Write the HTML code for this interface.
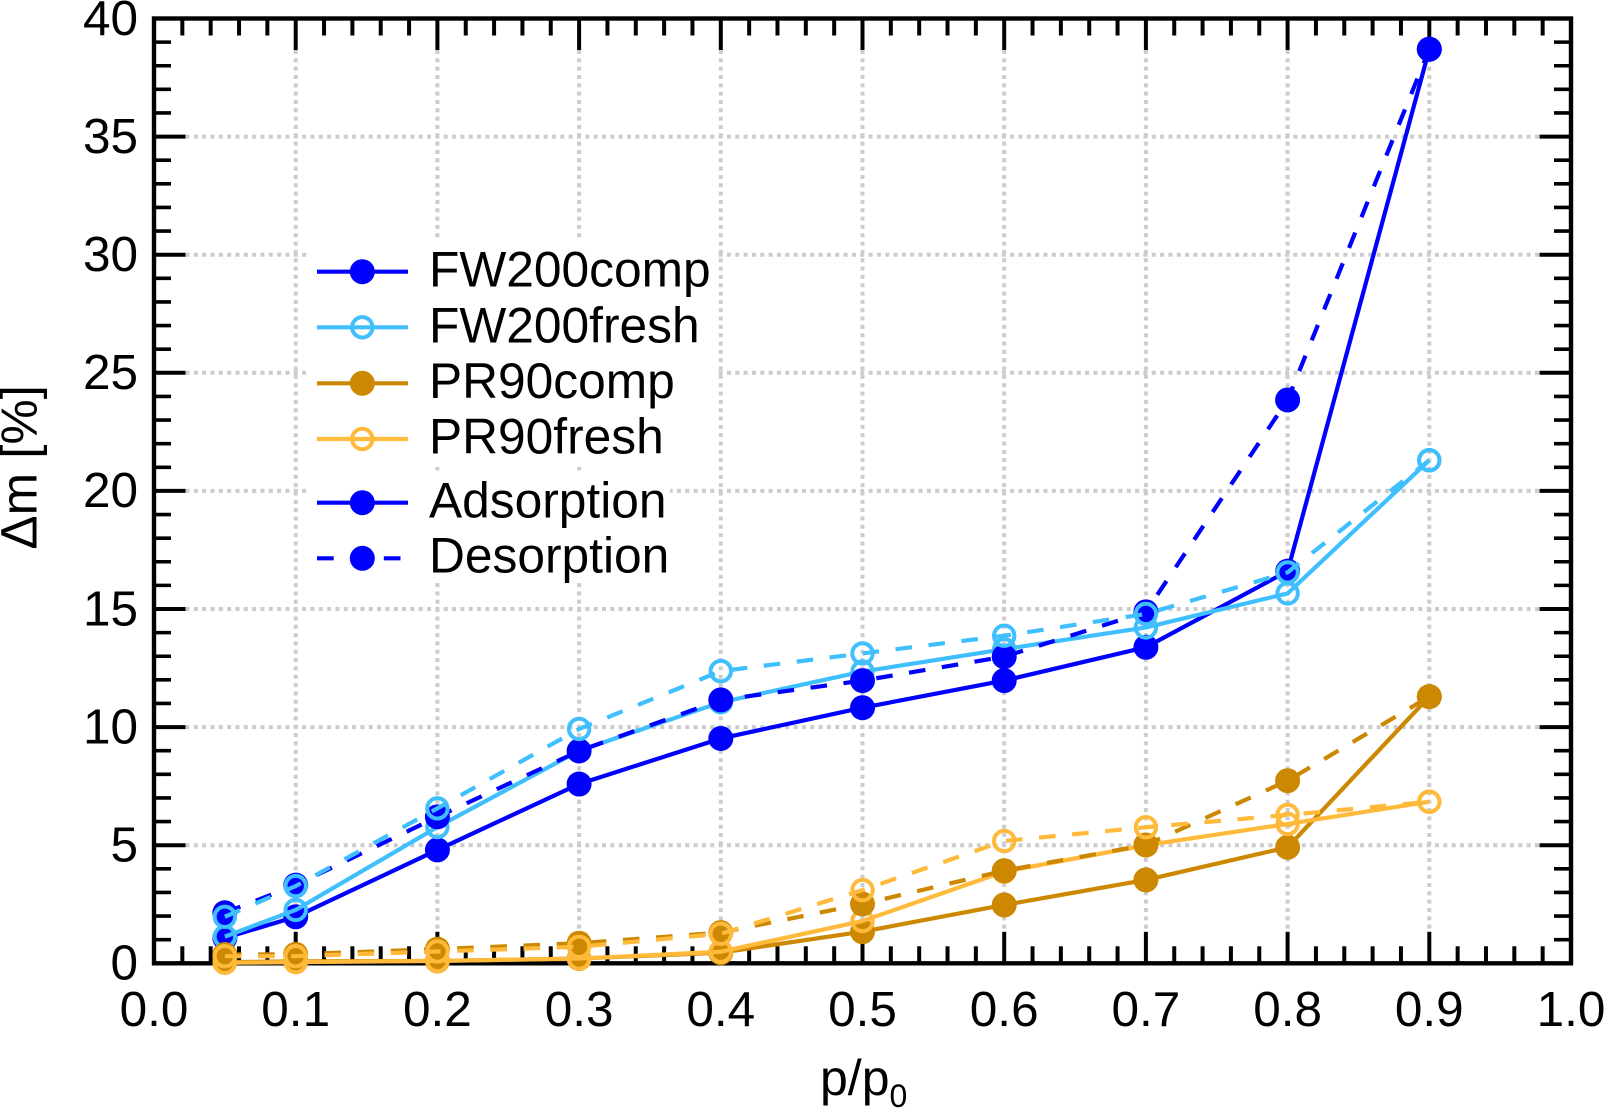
<!DOCTYPE html>
<html lang="en">
<head>
<meta charset="utf-8">
<title>Mass change vs relative pressure</title>
<style>
html,body{margin:0;padding:0;background:#fff;}
svg{display:block;font-family:"Liberation Sans",Arial,sans-serif;}
text{fill:#000;}
</style>
</head>
<body>
<svg id="chart" xmlns="http://www.w3.org/2000/svg" width="1604" height="1108" viewBox="0 0 1604 1108">
  <g id="grid"></g>
  <g id="frame"></g>
  <g id="labels"></g>
  <text transform="translate(36.7 549.5) rotate(-90)" font-size="51">Δm [%]</text>
  <text x="820" y="1095" font-size="50">p/p<tspan font-size="32" dy="12">0</tspan></text>

  <g>
    <rect x="310" y="238" width="405" height="229" fill="#fff"/>
    <g>
      <line x1="317" x2="408" y1="271.7" y2="271.7" stroke="#0000ff" stroke-width="4.2"/>
      <circle cx="362.3" cy="271.7" r="12.5" fill="#0000ff"/>
      <text x="429" y="286.7" font-size="49.7">FW200comp</text>
    </g>
    <g>
      <line x1="317" x2="408" y1="327.3" y2="327.3" stroke="#40bfff" stroke-width="4.2"/>
      <circle cx="362.3" cy="327.3" r="10.2" fill="none" stroke="#40bfff" stroke-width="4"/>
      <text x="429" y="342.4" font-size="49.7">FW200fresh</text>
    </g>
    <g>
      <line x1="317" x2="408" y1="383.3" y2="383.3" stroke="#cc8800" stroke-width="4.2"/>
      <circle cx="362.3" cy="383.3" r="12.5" fill="#cc8800"/>
      <text x="429" y="398" font-size="49.7">PR90comp</text>
    </g>
    <g>
      <line x1="317" x2="408" y1="439" y2="439" stroke="#ffb93b" stroke-width="4.2"/>
      <circle cx="362.3" cy="439" r="10.2" fill="none" stroke="#ffb93b" stroke-width="4"/>
      <text x="429" y="453.6" font-size="49.7">PR90fresh</text>
    </g>
  </g>

  <g>
    <rect x="310" y="472" width="360" height="111" fill="#fff"/>
    <g>
      <line x1="317" x2="408" y1="502.7" y2="502.7" stroke="#0000ff" stroke-width="4.2"/>
      <circle cx="362.3" cy="502.7" r="12.5" fill="#0000ff"/>
      <text x="429" y="517.7" font-size="49.7">Adsorption</text>
    </g>
    <g>
      <line x1="317" x2="400.5" y1="558.3" y2="558.3" stroke="#0000ff" stroke-width="4.2" stroke-dasharray="16.7 16.7"/>
      <circle cx="362.3" cy="558.3" r="12.5" fill="#0000ff"/>
      <text x="429" y="572.6" font-size="49.7">Desorption</text>
    </g>
  </g>

  <g id="series"></g>
</svg>
<script>
var pressure = [0.05, 0.1, 0.2, 0.3, 0.4, 0.5, 0.6, 0.7, 0.8, 0.9];
var fw200compAdsorption = [1.07, 1.97, 4.8, 7.59, 9.52, 10.82, 11.97, 13.38, 16.6, 38.7];
var fw200freshAdsorption = [1.13, 2.26, 5.77, 9.0, 11.05, 12.35, 13.3, 14.22, 15.66, 21.3];
var fw200compDesorption = [2.14, 3.31, 6.2, 8.99, 11.15, 11.97, 12.98, 14.88, 23.85, 38.7];
var fw200freshDesorption = [1.97, 3.27, 6.56, 9.92, 12.37, 13.12, 13.87, 14.79, 16.55, 21.3];
var pr90compAdsorption = [0.05, 0.08, 0.1, 0.2, 0.45, 1.34, 2.47, 3.53, 4.91, 11.29];
var pr90freshAdsorption = [0.02, 0.05, 0.1, 0.2, 0.49, 1.79, 3.88, 5.0, 5.9, 6.84];
var pr90compDesorption = [0.37, 0.38, 0.6, 0.85, 1.3, 2.51, 3.92, 5.01, 7.73, 11.29];
var pr90freshDesorption = [0.3, 0.3, 0.5, 0.7, 1.25, 3.1, 5.18, 5.76, 6.28, 6.84];
var xTicks = [0, 0.1, 0.2, 0.3, 0.4, 0.5, 0.6, 0.7, 0.8, 0.9, 1];
var xTickLabels = ["0.0", "0.1", "0.2", "0.3", "0.4", "0.5", "0.6", "0.7", "0.8", "0.9", "1.0"];
var yTicks = [0, 5, 10, 15, 20, 25, 30, 35, 40];
var yTickLabels = ["0", "5", "10", "15", "20", "25", "30", "35", "40"];

var NS = "http://www.w3.org/2000/svg";
var PLOT = {left: 154, right: 1571, top: 18.5, bottom: 963.3};
function xScale(v) { return PLOT.left + (PLOT.right - PLOT.left) * v; }
function yScale(v) { return PLOT.bottom - (PLOT.bottom - PLOT.top) * v / 40; }
function make(tag, attrs, parent) {
  var node = document.createElementNS(NS, tag);
  for (var key in attrs) { node.setAttribute(key, attrs[key]); }
  parent.appendChild(node);
  return node;
}

var gridGroup = document.getElementById("grid");
var frameGroup = document.getElementById("frame");
var labelGroup = document.getElementById("labels");
var seriesGroup = document.getElementById("series");
var MAJOR = 31.5, MINOR = 17;

xTicks.forEach(function (t, i) {
  var x = xScale(t);
  if (t > 0 && t < 1) {
    var g = make("line", {x1: x, x2: x, y1: PLOT.top + MAJOR, y2: PLOT.bottom - MAJOR, stroke: "#cccccc", "stroke-width": 4, "stroke-dasharray": "4 4.33"}, gridGroup);
    
    
    var a = make("line", {x1: x, x2: x, y1: PLOT.bottom, y2: PLOT.bottom - MAJOR, stroke: "#000", "stroke-width": 4}, frameGroup);
    
    
    var b = make("line", {x1: x, x2: x, y1: PLOT.top, y2: PLOT.top + MAJOR, stroke: "#000", "stroke-width": 4}, frameGroup);
    
    
  }
  var label = make("text", {x: x, y: 1026, "text-anchor": "middle", "font-size": 49.5}, labelGroup);
  label.textContent = xTickLabels[i];
  
  
});

yTicks.forEach(function (t, i) {
  var y = yScale(t);
  if (t > 0 && t < 40) {
    var g = make("line", {x1: PLOT.left + MAJOR, x2: PLOT.right - MAJOR, y1: y, y2: y, stroke: "#cccccc", "stroke-width": 4, "stroke-dasharray": "4 4.33"}, gridGroup);
    
    
    var a = make("line", {x1: PLOT.left, x2: PLOT.left + MAJOR, y1: y, y2: y, stroke: "#000", "stroke-width": 4}, frameGroup);
    
    
    var b = make("line", {x1: PLOT.right, x2: PLOT.right - MAJOR, y1: y, y2: y, stroke: "#000", "stroke-width": 4}, frameGroup);
    
    
  }
  var label = make("text", {x: 138, y: y + 16.3, "text-anchor": "end", "font-size": 49.5}, labelGroup);
  label.textContent = yTickLabels[i];
  
  
});

for (var mx = 1; mx < 50; mx++) {
  if (mx % 5 === 0) { continue; }
  var xm = xScale(mx / 50);
  var mb = make("line", {x1: xm, x2: xm, y1: PLOT.bottom, y2: PLOT.bottom - MINOR, stroke: "#000", "stroke-width": 4}, frameGroup);
  
  
  var mt = make("line", {x1: xm, x2: xm, y1: PLOT.top, y2: PLOT.top + MINOR, stroke: "#000", "stroke-width": 4}, frameGroup);
  
  
}
for (var my = 1; my < 40; my++) {
  if (my % 5 === 0) { continue; }
  var ym = yScale(my);
  var ml = make("line", {x1: PLOT.left, x2: PLOT.left + MINOR, y1: ym, y2: ym, stroke: "#000", "stroke-width": 3.6}, frameGroup);
  
  
  var mr = make("line", {x1: PLOT.right, x2: PLOT.right - MINOR, y1: ym, y2: ym, stroke: "#000", "stroke-width": 3.6}, frameGroup);
  
  
}
var border = make("rect", {x: PLOT.left, y: PLOT.top, width: PLOT.right - PLOT.left, height: PLOT.bottom - PLOT.top, fill: "none", stroke: "#000", "stroke-width": 4.4}, frameGroup);



function drawSeries(name, values, color, dashed, open) {
  var group = make("g", {}, seriesGroup);
  
  
  var pts = values.map(function (v, i) { return xScale(pressure[i]).toFixed(2) + "," + yScale(v).toFixed(2); }).join(" ");
  var line = make("polyline", {points: pts, fill: "none", stroke: color, "stroke-width": 4.2, "stroke-linejoin": "round"}, group);
  if (dashed) { line.setAttribute("stroke-dasharray", "16.6 16.6"); }
  
  
  values.forEach(function (v, i) {
    var c = make("circle", {cx: xScale(pressure[i]), cy: yScale(v)}, group);
    if (open) {
      c.setAttribute("r", 10.2);
      c.setAttribute("fill", "none");
      c.setAttribute("stroke", color);
      c.setAttribute("stroke-width", 4);
    } else {
      c.setAttribute("r", 12.5);
      c.setAttribute("fill", color);
    }
    
    
  });
}

var BLUE = "#0000ff", CYAN = "#40bfff", BROWN = "#cc8800", AMBER = "#ffb93b";
drawSeries("fw200comp-adsorption", fw200compAdsorption, BLUE, false, false);
drawSeries("fw200fresh-adsorption", fw200freshAdsorption, CYAN, false, true);
drawSeries("fw200comp-desorption", fw200compDesorption, BLUE, true, false);
drawSeries("fw200fresh-desorption", fw200freshDesorption, CYAN, true, true);
drawSeries("pr90comp-adsorption", pr90compAdsorption, BROWN, false, false);
drawSeries("pr90fresh-adsorption", pr90freshAdsorption, AMBER, false, true);
drawSeries("pr90comp-desorption", pr90compDesorption, BROWN, true, false);
drawSeries("pr90fresh-desorption", pr90freshDesorption, AMBER, true, true);
</script>
</body>
</html>
